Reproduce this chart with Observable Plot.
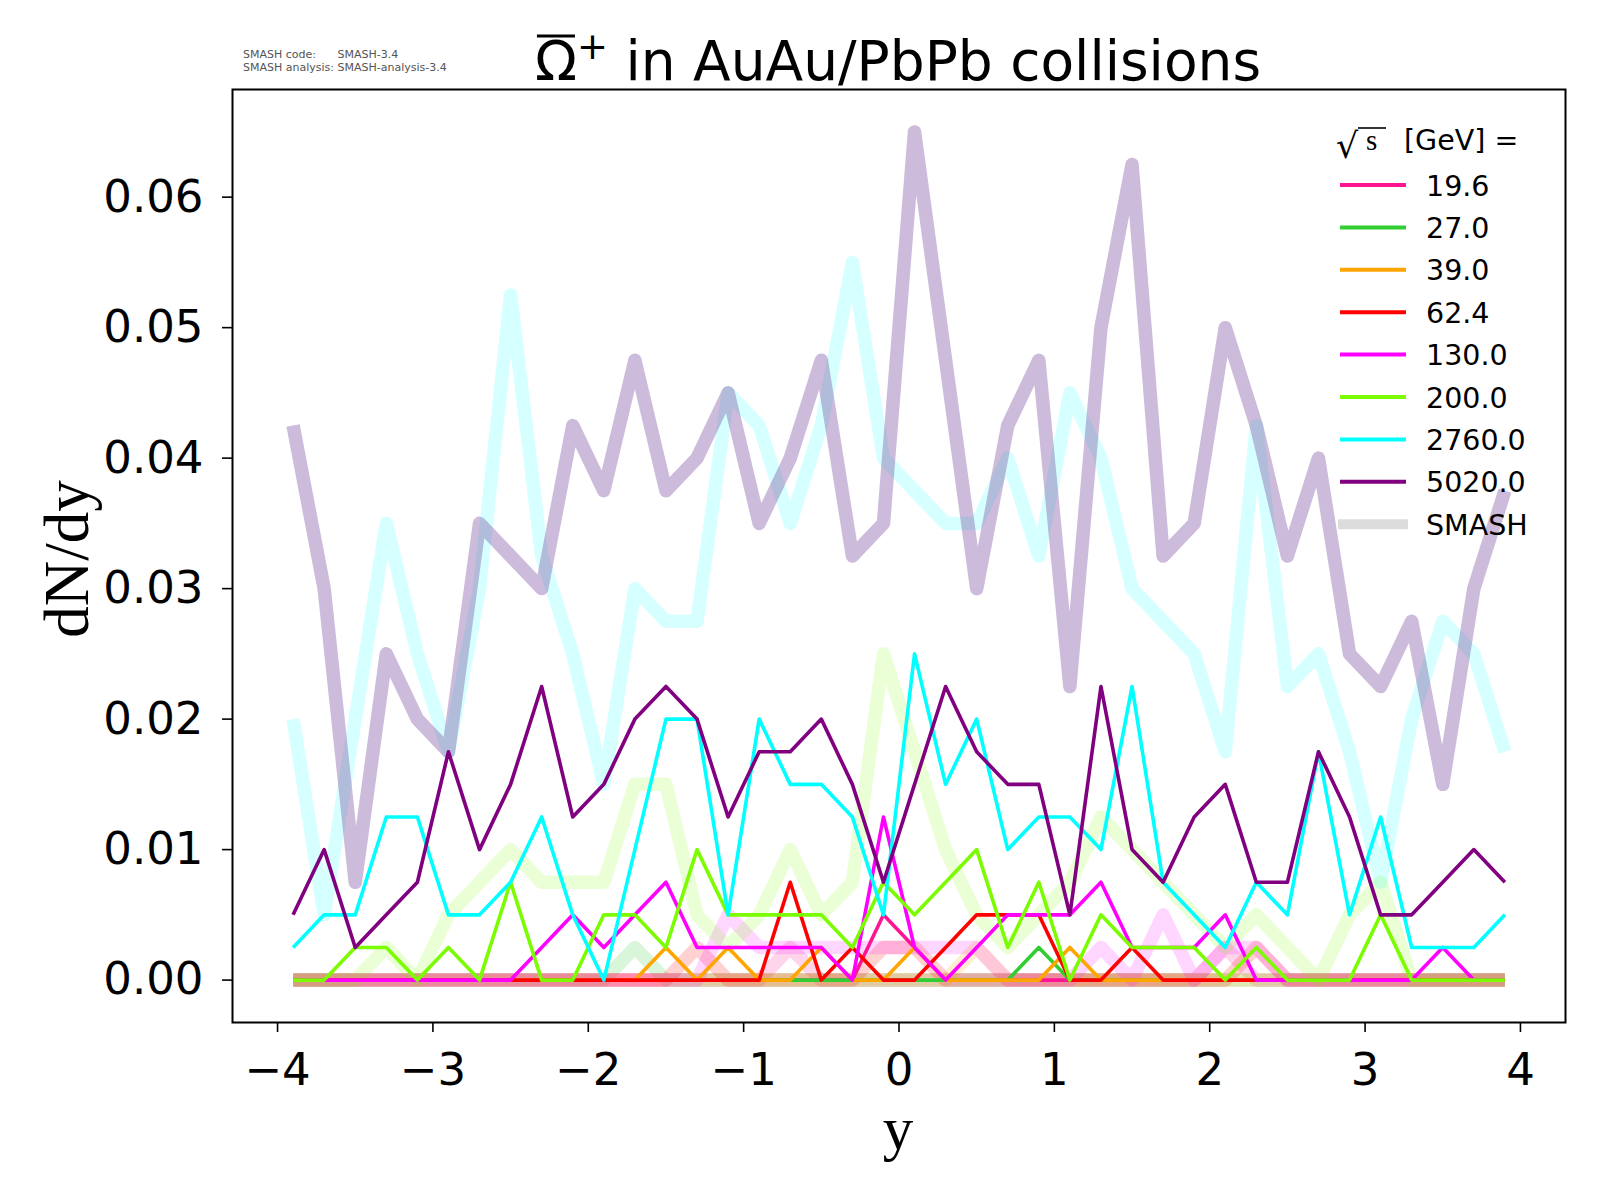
<!DOCTYPE html>
<html>
<head>
<meta charset="utf-8">
<script src="https://cdn.jsdelivr.net/npm/d3@7"></script>
<script src="https://cdn.jsdelivr.net/npm/@observablehq/plot@0.6"></script>
<style>
  html, body { margin: 0; padding: 0; background: #ffffff; overflow: hidden; }
  #chart { width: 1600px; height: 1200px; position: relative; }
  #chart svg { display: block; max-width: none !important; }
</style>
</head>
<body>
<div id="chart"></div>
<script>
// ---------- data ----------
const rapidity = [-3.9, -3.7, -3.5, -3.3, -3.1, -2.9, -2.7, -2.5, -2.3, -2.1,
                  -1.9, -1.7, -1.5, -1.3, -1.1, -0.9, -0.7, -0.5, -0.3, -0.1,
                   0.1,  0.3,  0.5,  0.7,  0.9,  1.1,  1.3,  1.5,  1.7,  1.9,
                   2.1,  2.3,  2.5,  2.7,  2.9,  3.1,  3.3,  3.5,  3.7,  3.9];

const energies = ["19.6", "27.0", "39.0", "62.4", "130.0", "200.0", "2760.0", "5020.0"];
const colors   = ["#ff1493", "#32cd32", "#ffa500", "#ff0000", "#ff00ff", "#7cfc00", "#00ffff", "#800080"];
const smashColors   = ["#ff1493", "#32cd32", "#ffa500", "#ff0000", "#ff00ff", "#7cfc00", "#00ffff", "#6d3d95"];
const smashOpacity  = [0.18, 0.18, 0.18, 0.18, 0.16, 0.16, 0.16, 0.35];

// thin lines
const line_19_6 = [0,0,0,0,0,0,0,0,0,0, 0,0,0,0,0,0,0,0,0,0.005, 0.0025,0,0,0,0,0,0,0,0,0, 0,0,0,0,0,0,0,0,0,0];
const line_27_0 = [0,0,0,0,0,0,0,0,0,0, 0,0,0,0,0,0,0,0,0,0, 0,0,0,0,0.0025,0,0,0,0,0, 0,0,0,0,0,0,0,0,0,0];
const line_39_0 = [0,0,0,0,0,0,0,0,0,0, 0,0,0.0025,0,0.0025,0,0,0.0025,0,0, 0.0025,0,0,0,0,0.0025,0,0,0,0, 0,0,0,0,0,0,0,0,0,0];
const line_62_4 = [0,0,0,0,0,0,0,0,0,0, 0,0,0,0,0,0,0.0075,0,0.0025,0, 0,0.0025,0.005,0.005,0.005,0,0,0.0025,0,0, 0,0,0,0,0,0,0,0,0,0];
const line_130  = [0,0,0,0,0,0,0,0,0.0025,0.005, 0.0025,0.005,0.0075,0.0025,0.0025,0.0025,0.0025,0.0025,0,0.0125,
                   0.0025,0,0.0025,0.005,0.005,0.005,0.0075,0.0025,0.0025,0.0025, 0.005,0,0,0,0,0,0,0.0025,0,0];
const line_200  = [0,0,0.0025,0.0025,0,0.0025,0,0.0075,0,0, 0.005,0.005,0.0025,0.01,0.005,0.005,0.005,0.005,0.0025,0.0075,
                   0.005,0.0075,0.01,0.0025,0.0075,0,0.005,0.0025,0.0025,0.0025, 0,0.0025,0,0,0,0.005,0,0,0,0];
const line_2760 = [0.0025,0.005,0.005,0.0125,0.0125,0.005,0.005,0.0075,0.0125,0.005,
                   0,0.01,0.02,0.02,0.005,0.02,0.015,0.015,0.0125,0.005,
                   0.025,0.015,0.02,0.01,0.0125,0.0125,0.01,0.0225,0.0075,0.005,
                   0.0025,0.0075,0.005,0.0175,0.005,0.0125,0.0025,0.0025,0.0025,0.005];
const line_5020 = [0.005,0.01,0.0025,0.005,0.0075,0.0175,0.01,0.015,0.0225,0.0125,
                   0.015,0.02,0.0225,0.02,0.0125,0.0175,0.0175,0.02,0.015,0.0075,
                   0.015,0.0225,0.0175,0.015,0.015,0.005,0.0225,0.01,0.0075,0.0125,
                   0.015,0.0075,0.0075,0.0175,0.0125,0.005,0.005,0.0075,0.01,0.0075];

// SMASH (thick, translucent) lines
const smash_19_6 = [0,0,0,0,0,0,0,0,0,0, 0,0,0,0,0,0,0.0025,0,0,0, 0,0,0,0,0,0,0,0,0,0, 0.0025,0,0,0,0,0,0,0,0,0];
const smash_27_0 = [0,0,0,0,0,0,0,0,0,0, 0,0.0025,0,0,0,0,0,0,0,0, 0,0,0,0,0,0,0,0,0,0, 0,0,0,0,0,0,0,0,0,0];
const smash_39_0 = [0,0,0,0,0,0,0,0,0,0, 0,0,0,0,0,0,0,0,0,0, 0,0,0.0025,0,0,0,0,0,0,0, 0,0,0,0,0,0,0,0,0,0];
const smash_62_4 = [0,0,0,0,0,0,0,0,0,0, 0,0,0,0.0025,0,0,0,0,0,0.0025, 0.0025,0,0,0,0,0,0,0,0,0, 0,0.0025,0,0,0,0,0,0,0,0];
const smash_130  = [0,0,0,0,0,0,0,0,0,0, 0,0,0,0,0.005,0.0025,0.0025,0.0025,0.0025,0.0025,
                    0.0025,0.0025,0.0025,0,0,0,0.0025,0,0.005,0, 0.0025,0.0025,0,0,0,0,0,0,0,0];
const smash_200  = [0,0,0,0.0025,0,0.005,0.0075,0.01,0.0075,0.0075,
                    0.0075,0.015,0.015,0.005,0.0025,0.005,0.01,0.005,0.0075,0.025,
                    0.0175,0.01,0.005,0.0025,0.005,0.0075,0.0125,0.01,0.0075,0.005,
                    0.0025,0.005,0.0025,0,0.005,0.0075,0,0,0,0];
const smash_2760 = [0.02,0.005,0.02,0.035,0.025,0.0175,0.03,0.0525,0.0325,0.025,
                    0.015,0.03,0.0275,0.0275,0.045,0.0425,0.035,0.0425,0.055,0.04,
                    0.0375,0.035,0.035,0.04,0.0325,0.045,0.04,0.03,0.0275,0.025,
                    0.0175,0.0425,0.0225,0.025,0.0175,0.0075,0.02,0.0275,0.025,0.0175];
const smash_5020 = [0.0425,0.03,0.0075,0.025,0.02,0.0175,0.035,0.0325,0.03,0.0425,
                    0.0375,0.0475,0.0375,0.04,0.045,0.035,0.04,0.0475,0.0325,0.035,
                    0.065,0.0475,0.03,0.0425,0.0475,0.0225,0.05,0.0625,0.0325,0.035,
                    0.05,0.0425,0.0325,0.04,0.025,0.0225,0.0275,0.015,0.03,0.0375];

const xTicks = [-4, -3, -2, -1, 0, 1, 2, 3, 4];
const yTicks = [0, 0.01, 0.02, 0.03, 0.04, 0.05, 0.06];

const thinSeries  = [line_19_6, line_27_0, line_39_0, line_62_4, line_130, line_200, line_2760, line_5020];
const smashSeries = [smash_19_6, smash_27_0, smash_39_0, smash_62_4, smash_130, smash_200, smash_2760, smash_5020];

const toRows = (vals) => rapidity.map((y, i) => ({y, v: vals[i]}));

const marks = [];
smashSeries.forEach((vals, k) => {
  marks.push(Plot.line(toRows(vals), {
    x: "y", y: "v", stroke: smashColors[k], strokeOpacity: smashOpacity[k],
    strokeWidth: 13.5, strokeLinejoin: "round", strokeLinecap: "butt"
  }));
});
thinSeries.forEach((vals, k) => {
  marks.push(Plot.line(toRows(vals), {
    x: "y", y: "v", stroke: colors[k], strokeWidth: 3.6,
    strokeLinejoin: "round", strokeLinecap: "butt"
  }));
});

const minus = (d) => d < 0 ? "\u2212" + Math.abs(d) : String(d);

marks.push(
  Plot.axisX({ticks: xTicks, tickFormat: minus, tickSize: 10, tickPadding: 21,
              fontSize: 45, strokeWidth: 1.6, label: null}),
  Plot.axisY({ticks: yTicks, tickFormat: d3.format(".2f"), tickSize: 10, tickPadding: 19,
              fontSize: 45, strokeWidth: 1.6, label: null}),
  Plot.frame({stroke: "black", strokeWidth: 2})
);

const chart = Plot.plot({
  width: 1600,
  height: 1200,
  marginLeft: 232,
  marginRight: 35,
  marginTop: 89,
  marginBottom: 178,
  x: {domain: [-4.29, 4.29]},
  y: {domain: [-0.00325, 0.06825]},
  style: {fontFamily: "DejaVu Sans, sans-serif", background: "#ffffff", color: "black", overflow: "visible"},
  marks
});

document.getElementById("chart").appendChild(chart);

// ---------- texts, axis labels and legend ----------
const svg = d3.select(chart);
const ann = svg.append("g").attr("text-anchor", "start");

// title with an overline on the Omega
const title = ann.append("text")
  .attr("x", 898).attr("y", 80)
  .attr("text-anchor", "middle")
  .attr("font-family", "DejaVu Sans, sans-serif")
  .attr("font-size", 55)
  .attr("fill", "black");
title.append("tspan").text("\u03A9");
title.append("tspan").attr("font-size", 37).attr("dy", -21).text("+");
title.append("tspan").attr("dy", 21).text(" in AuAu/PbPb collisions");
{
  const node = title.node();
  const total = node.getComputedTextLength();
  const omegaW = node.getSubStringLength(0, 1);
  const x0 = 898 - total / 2;
  ann.append("line")
    .attr("x1", x0 + 2).attr("x2", x0 + omegaW - 2)
    .attr("y1", 36).attr("y2", 36)
    .attr("stroke", "black").attr("stroke-width", 3);
}

// SMASH version notes
const noteFont = 11;
const note2 = ann.append("text")
  .attr("x", 243).attr("y", 71)
  .attr("font-family", "DejaVu Sans, sans-serif")
  .attr("font-size", noteFont).attr("fill", "#555");
note2.append("tspan").text("SMASH analysis: ");
note2.append("tspan").text("SMASH-analysis-3.4");
{
  const w = note2.node().getSubStringLength(0, "SMASH analysis: ".length);
  ann.append("text").attr("x", 243).attr("y", 58)
    .attr("font-family", "DejaVu Sans, sans-serif")
    .attr("font-size", noteFont).attr("fill", "#555").text("SMASH code:");
  ann.append("text").attr("x", 243 + w).attr("y", 58)
    .attr("font-family", "DejaVu Sans, sans-serif")
    .attr("font-size", noteFont).attr("fill", "#555").text("SMASH-3.4");
}

ann.append("text")
  .attr("transform", "translate(88,559) rotate(-90)")
  .attr("text-anchor", "middle")
  .attr("font-family", "Liberation Serif, DejaVu Serif, serif")
  .attr("font-size", 63)
  .attr("fill", "black")
  .text("dN/dy");

ann.append("text")
  .attr("x", 898).attr("y", 1149)
  .attr("text-anchor", "middle")
  .attr("font-family", "Liberation Serif, DejaVu Serif, serif")
  .attr("font-size", 61)
  .attr("fill", "black")
  .text("y");

// legend
const leg = svg.append("g")
  .attr("text-anchor", "start")
  .attr("font-family", "DejaVu Sans, sans-serif")
  .attr("font-size", 28.5)
  .attr("fill", "black");
leg.append("text").attr("x", 1336).attr("y", 158)
  .attr("font-family", "DejaVu Serif, serif").attr("font-size", 35).text("\u221A");
leg.append("text").attr("x", 1366).attr("y", 150)
  .attr("font-family", "Liberation Serif, serif").attr("font-size", 29).text("s");
leg.append("line").attr("x1", 1358).attr("x2", 1386).attr("y1", 128).attr("y2", 128)
  .attr("stroke", "black").attr("stroke-width", 1.6);
leg.append("text").attr("x", 1404).attr("y", 150).text("[GeV] =");

const legY0 = 185, legStep = 42.4;
energies.forEach((e, i) => {
  const yy = legY0 + legStep * i;
  leg.append("line").attr("x1", 1340).attr("x2", 1406).attr("y1", yy).attr("y2", yy)
    .attr("stroke", colors[i]).attr("stroke-width", 4);
  leg.append("text").attr("x", 1426).attr("y", yy + 10.5).text(e);
});
{
  const yy = legY0 + legStep * 8;
  leg.append("line").attr("x1", 1338).attr("x2", 1408).attr("y1", yy).attr("y2", yy)
    .attr("stroke", "#dcdcdc").attr("stroke-width", 10);
  leg.append("text").attr("x", 1426).attr("y", yy + 10.5).text("SMASH");
}
</script>
</body>
</html>
